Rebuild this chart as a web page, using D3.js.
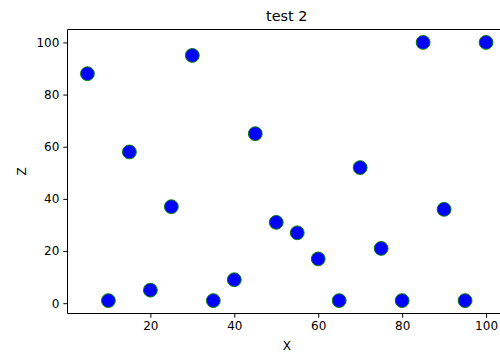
<!DOCTYPE html>
<html><head><meta charset="utf-8">
<script src="https://cdn.jsdelivr.net/npm/d3@7"></script>
<style>body{margin:0;background:#fff}text{font-family:"DejaVu Sans",sans-serif;fill:#000}</style>
</head><body>
<svg id="c" width="500" height="354"></svg>
<script>
const xValues = [5,10,15,20,25,30,35,40,45,50,55,60,65,70,75,80,85,90,95,100];
const zValues = [88,1,58,5,37,95,1,9,65,31,27,17,1,52,21,1,100,36,1,100];
const xTicks = [20,40,60,80,100];
const yTicks = [0,20,40,60,80,100];
const title = "test 2", xLabel = "X", yLabel = "Z";

const svg = d3.select("#c");
const L = 67.5, R = 506, T = 29.5, B = 313.5;
const x = d3.scaleLinear().domain([0.25, 104.75]).range([L, R]);
const y = d3.scaleLinear().domain([-3.95, 104.95]).range([B, T]);

const xa = svg.append("g").attr("transform", `translate(0,${B})`)
  .call(d3.axisBottom(x).tickValues(xTicks).tickSize(4.2).tickPadding(4).tickFormat(d3.format("d")));
const ya = svg.append("g").attr("transform", `translate(${L},0)`)
  .call(d3.axisLeft(y).tickValues(yTicks).tickSize(4.2).tickPadding(4).tickFormat(d3.format("d")));
[xa, ya].forEach(a => {
  a.select(".domain").remove();
  a.selectAll("text").attr("font-size", 12).attr("font-family", "DejaVu Sans").attr("fill", "#000");
  a.selectAll("line").attr("stroke", "#000").attr("stroke-width", 1);
});
// spines (left, bottom, top; right is outside the picture)
svg.append("path").attr("d", `M${L},${T}H${R}M${L},${T}V${B}H${R}`)
  .attr("fill", "none").attr("stroke", "#000").attr("stroke-width", 1);

svg.append("g").selectAll("circle").data(xValues).join("circle")
  .attr("cx", d => x(d)).attr("cy", (d, i) => y(zValues[i])).attr("r", 6.9)
  .attr("fill", "#0000ff").attr("stroke", "#008000").attr("stroke-width", 1);

svg.append("text").attr("x", (L + R) / 2).attr("y", 21).attr("text-anchor", "middle")
  .attr("font-size", 14.4).text(title);
svg.append("text").attr("x", (L + R) / 2).attr("y", 350).attr("text-anchor", "middle")
  .attr("font-size", 12).text(xLabel);
svg.append("text").attr("transform", `translate(26,${(T + B) / 2}) rotate(-90)`)
  .attr("text-anchor", "middle").attr("font-size", 12).text(yLabel);
</script>
</body></html>
